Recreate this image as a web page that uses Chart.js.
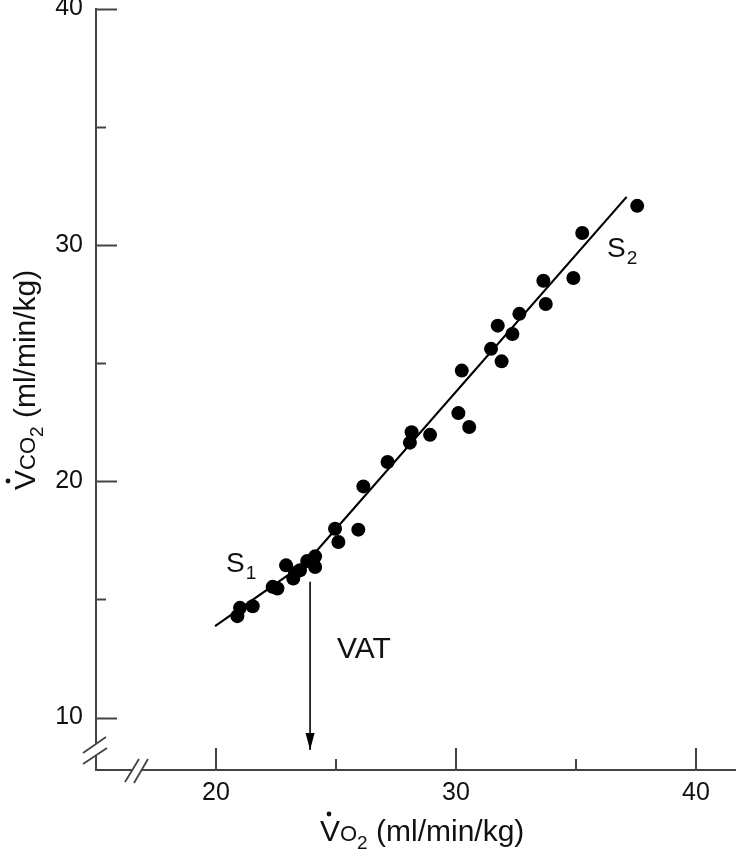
<!DOCTYPE html>
<html>
<head>
<meta charset="utf-8">
<script src="https://cdn.jsdelivr.net/npm/chart.js@4/dist/chart.umd.min.js"></script>
<style>
  html, body { margin: 0; padding: 0; background: #ffffff; overflow: hidden; }
  #chart { display: block; }
</style>
</head>
<body>
<canvas id="chart" width="736" height="853"></canvas>
<script>
// ---- data ----
const vo2Values = [20.89, 21.00, 21.53, 22.36, 22.56, 22.92, 23.22, 23.29, 23.50, 23.80, 24.13, 24.13, 24.96, 25.10, 25.93, 26.14, 27.15, 28.15, 28.08, 28.92, 30.10, 30.55, 30.24, 31.46, 31.90, 31.74, 32.35, 32.64, 33.74, 33.64, 34.89, 35.26, 37.55];
const vco2Values = [14.29, 14.64, 14.71, 15.53, 15.46, 16.44, 15.88, 16.12, 16.23, 16.62, 16.82, 16.37, 17.99, 17.43, 17.95, 19.78, 20.81, 22.07, 21.63, 21.96, 22.88, 22.29, 24.68, 25.60, 25.07, 26.58, 26.23, 27.08, 27.50, 28.48, 28.60, 30.50, 31.65];
// two-slope fit (S1 below VAT, S2 above)
const fitVo2 = [19.96, 23.79, 37.11];
const fitVco2 = [13.87, 16.58, 32.03];
// VAT arrow
const vatVo2 = [23.92, 23.92];
const vatVco2 = [15.74, 8.63];
// axis ticks
const xTickValues = [20, 25, 30, 35, 40];
const xTickLabels = ['20', '', '30', '', '40'];
const yTickValues = [10, 15, 20, 25, 30, 35, 40];
const yTickLabels = ['10', '', '20', '', '30', '', '40'];
const xRange = [15, 41.667];
const yRange = [7.78, 40];
// text
const xTitleParts = ['V', 'O', '2', ' (ml/min/kg)'];
const yTitleParts = ['V', 'CO', '2', ' (ml/min/kg)'];
const s1Text = ['S', '1'];
const s2Text = ['S', '2'];
const vatText = 'VAT';
// annotation anchors (data units)
const s1Anchor = [20.42, 16.15];
const s2Anchor = [36.29, 29.5];
const vatAnchor = [25.04, 12.51];

const FONT = '"Liberation Sans", Arial, Helvetica, sans-serif';
const AXIS_COLOR = '#444444';
const TEXT_COLOR = '#111111';

function pts(xs, ys) { return xs.map((x, i) => ({ x: x, y: ys[i] })); }

const decorPlugin = {
  id: 'decor',
  afterDatasetsDraw(chart) {
    const ctx = chart.ctx;
    const xs = chart.scales.x, ys = chart.scales.y;
    const ca = chart.chartArea;
    ctx.save();
    // inward ticks
    ctx.strokeStyle = AXIS_COLOR;
    ctx.lineWidth = 2;
    yTickValues.forEach((v, i) => {
      const py = Math.round(ys.getPixelForValue(v)) + 0.5;
      const len = yTickLabels[i] ? 21 : 10;
      ctx.beginPath(); ctx.moveTo(ca.left, py); ctx.lineTo(ca.left + len, py); ctx.stroke();
    });
    xTickValues.forEach((v, i) => {
      const px = Math.round(xs.getPixelForValue(v));
      const len = xTickLabels[i] ? 22 : 11;
      ctx.beginPath(); ctx.moveTo(px, ca.bottom); ctx.lineTo(px, ca.bottom - len); ctx.stroke();
    });
    // axis breaks
    const L = ca.left, B = ca.bottom;
    ctx.fillStyle = '#ffffff';
    ctx.fillRect(L - 3, B - 26, 6, 11);
    ctx.fillRect(L + 37, B - 3, 9, 6);
    ctx.strokeStyle = AXIS_COLOR;
    ctx.lineWidth = 1.8;
    ctx.beginPath();
    ctx.moveTo(L - 13, B - 17); ctx.lineTo(L + 10, B - 33);
    ctx.moveTo(L - 13, B - 6); ctx.lineTo(L + 11, B - 22);
    ctx.moveTo(L + 29, B + 12); ctx.lineTo(L + 43, B - 11);
    ctx.moveTo(L + 38, B + 13); ctx.lineTo(L + 52, B - 11);
    ctx.stroke();
    // VAT arrowhead
    const tipX = xs.getPixelForValue(vatVo2[1]);
    const tipY = ys.getPixelForValue(vatVco2[1]);
    ctx.fillStyle = '#000000';
    ctx.beginPath();
    ctx.moveTo(tipX, tipY);
    ctx.lineTo(tipX - 4.5, tipY - 17);
    ctx.lineTo(tipX + 4.5, tipY - 17);
    ctx.closePath();
    ctx.fill();
    // labels S1, S2, VAT
    ctx.fillStyle = TEXT_COLOR;
    ctx.textBaseline = 'alphabetic';
    ctx.textAlign = 'left';
    function sLabel(parts, anchor) {
      const px = xs.getPixelForValue(anchor[0]);
      const py = ys.getPixelForValue(anchor[1]);
      ctx.font = '28px ' + FONT;
      ctx.fillText(parts[0], px, py);
      const w = ctx.measureText(parts[0]).width;
      ctx.font = '19px ' + FONT;
      ctx.fillText(parts[1], px + w + 1, py + 7);
    }
    sLabel(s1Text, s1Anchor);
    sLabel(s2Text, s2Anchor);
    ctx.font = '30px ' + FONT;
    ctx.fillText(vatText, xs.getPixelForValue(vatAnchor[0]), ys.getPixelForValue(vatAnchor[1]));
    // axis titles
    function title(parts, x0, y0, rot) {
      ctx.save();
      ctx.translate(x0, y0);
      ctx.rotate(rot);
      let x = 0;
      ctx.font = '30px ' + FONT;
      ctx.fillText(parts[0], x, 0);
      const vw = ctx.measureText(parts[0]).width;
      ctx.beginPath();
      ctx.arc(x + vw / 2 - 1, -27, 2.4, 0, Math.PI * 2);
      ctx.fill();
      x += vw;
      ctx.font = '22px ' + FONT;
      ctx.fillText(parts[1], x, 0);
      x += ctx.measureText(parts[1]).width;
      ctx.font = '19px ' + FONT;
      ctx.fillText(parts[2], x, 8);
      x += ctx.measureText(parts[2]).width;
      ctx.font = '30px ' + FONT;
      ctx.fillText(parts[3], x, 0);
      ctx.restore();
    }
    title(xTitleParts, 320, 841, 0);
    title(yTitleParts, 35, 490, -Math.PI / 2);
    ctx.restore();
  }
};

const ctxEl = document.getElementById('chart');
new Chart(ctxEl, {
  data: {
    datasets: [
      {
        type: 'scatter',
        data: pts(vo2Values, vco2Values),
        pointRadius: 7,
        pointHoverRadius: 7,
        pointBackgroundColor: '#000000',
        pointBorderWidth: 0,
        order: 0
      },
      {
        type: 'line',
        data: pts(fitVo2, fitVco2),
        borderColor: '#000000',
        borderWidth: 2.2,
        pointRadius: 0,
        tension: 0,
        fill: false,
        order: 1
      },
      {
        type: 'line',
        data: pts(vatVo2, vatVco2),
        borderColor: '#000000',
        borderWidth: 1.6,
        pointRadius: 0,
        tension: 0,
        fill: false,
        order: 2
      }
    ]
  },
  options: {
    responsive: false,
    maintainAspectRatio: false,
    devicePixelRatio: 1,
    animation: false,
    events: [],
    layout: { autoPadding: false, padding: { top: 8.5, left: 0, right: 0, bottom: 0 } },
    plugins: { legend: { display: false }, tooltip: { enabled: false }, title: { display: false } },
    scales: {
      x: {
        type: 'linear',
        position: 'bottom',
        min: xRange[0],
        max: xRange[1],
        grid: { display: false, drawTicks: false },
        border: { display: true, color: AXIS_COLOR, width: 2 },
        ticks: {
          autoSkip: false,
          maxRotation: 0,
          padding: 8,
          color: TEXT_COLOR,
          font: { family: FONT, size: 25 },
          callback: (v) => { const i = xTickValues.indexOf(v); return i >= 0 ? xTickLabels[i] : ''; }
        },
        afterBuildTicks: (s) => { s.ticks = xTickValues.map(v => ({ value: v })); },
        afterFit: (s) => { s.height = 83; s.paddingLeft = 0; s.paddingRight = 0; }
      },
      y: {
        type: 'linear',
        position: 'left',
        min: yRange[0],
        max: yRange[1],
        grid: { display: false, drawTicks: false },
        border: { display: true, color: AXIS_COLOR, width: 2 },
        ticks: {
          autoSkip: false,
          padding: 13,
          color: TEXT_COLOR,
          font: { family: FONT, size: 25 },
          callback: (v) => { const i = yTickValues.indexOf(v); return i >= 0 ? yTickLabels[i] : ''; }
        },
        afterBuildTicks: (s) => { s.ticks = yTickValues.map(v => ({ value: v })); },
        afterFit: (s) => { s.width = 96; s.paddingTop = 0; s.paddingBottom = 0; }
      }
    }
  },
  plugins: [decorPlugin]
});
</script>
</body>
</html>
